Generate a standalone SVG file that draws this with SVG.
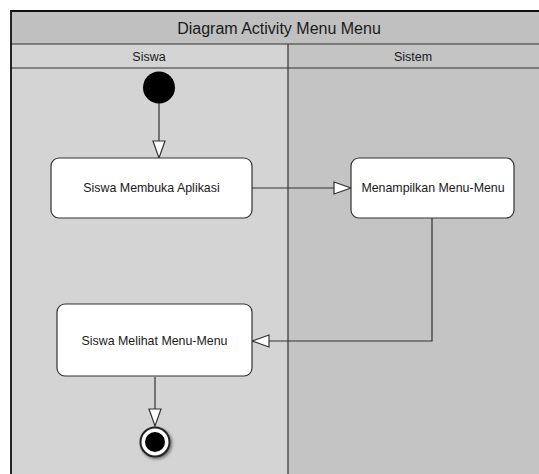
<svg xmlns="http://www.w3.org/2000/svg" width="539" height="474" viewBox="0 0 539 474">
<style>
.lbl{font-family:"Liberation Sans",Arial,sans-serif;fill:#1a1a1a;text-anchor:middle;dominant-baseline:central}
.node{fill:#ffffff;stroke:#333333;stroke-width:1.2}
.edge{fill:none;stroke:#333333;stroke-width:1.2}
.lane{stroke:#333333;stroke-width:1.2}
</style>
<defs>
<marker id="tri" markerUnits="userSpaceOnUse" markerWidth="20" markerHeight="16" viewBox="0 0 20 16" refX="18" refY="8" orient="auto">
<path d="M1,2 L18,8 L1,14 Z" fill="#ffffff" stroke="#333333" stroke-width="1.2"/>
</marker>
<filter id="sh" x="-50%" y="-50%" width="200%" height="200%">
<feDropShadow dx="1.5" dy="1.5" stdDeviation="1.5" flood-color="#000" flood-opacity="0.5"/>
</filter>
</defs>
<rect x="0" y="0" width="539" height="474" fill="#ffffff"/>
<g id="frame">
<rect x="11" y="11" width="540" height="33" fill="#c0c0c0"/>
<rect x="11" y="44" width="277" height="440" fill="#d4d4d4"/>
<rect x="288" y="44" width="260" height="440" fill="#c4c4c4"/>
<line class="lane" x1="11" y1="44" x2="545" y2="44"/>
<line class="lane" x1="11" y1="68" x2="545" y2="68"/>
<line class="lane" x1="288" y1="44" x2="288" y2="480"/>
<path d="M11,480 L11,11 L545,11" fill="none" stroke="#111111" stroke-width="1.8"/>
<text class="lbl" x="279" y="28" font-size="16">Diagram Activity Menu Menu</text>
<text class="lbl" x="149" y="57" font-size="12.5">Siswa</text>
<text class="lbl" x="413" y="57" font-size="12.5">Sistem</text>
</g>
<g id="connectors">
<line class="edge" x1="159" y1="103" x2="159" y2="158" marker-end="url(#tri)"/>
<line class="edge" x1="252" y1="188" x2="351" y2="188" marker-end="url(#tri)"/>
<path class="edge" d="M432,218 L432,341 L252,341" marker-end="url(#tri)"/>
<line class="edge" x1="155" y1="377" x2="155" y2="426" marker-end="url(#tri)"/>
</g>
<g id="start">
<circle cx="159" cy="87.5" r="16" fill="#000000"/>
</g>
<g id="n1">
<rect class="node" x="51" y="158" width="201" height="60" rx="8"/>
<text class="lbl" x="151.5" y="188" font-size="12.4">Siswa Membuka Aplikasi</text>
</g>
<g id="n2">
<rect class="node" x="351" y="158" width="163" height="60" rx="8"/>
<text class="lbl" x="433" y="188" font-size="12.4">Menampilkan Menu-Menu</text>
</g>
<g id="n3">
<rect class="node" x="57" y="304" width="195" height="72" rx="8"/>
<text class="lbl" x="154.5" y="341" font-size="12.4">Siswa Melihat Menu-Menu</text>
</g>
<g id="end">
<circle cx="155" cy="442" r="14.5" fill="#ffffff" stroke="#222222" stroke-width="2" filter="url(#sh)"/>
<circle cx="155" cy="442" r="10" fill="#000000"/>
</g>
</svg>
